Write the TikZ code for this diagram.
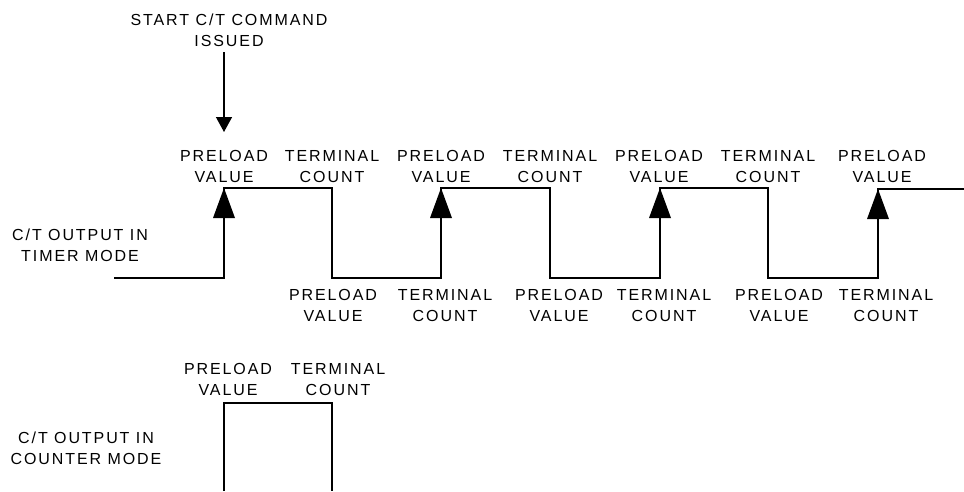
\documentclass[tikz,border=0pt]{standalone}
\usepackage{fontspec}
\setmainfont{Liberation Sans}[LetterSpace=12]
\usetikzlibrary{arrows.meta}
\tikzset{
  lbl/.style={align=center, inner sep=0pt, anchor=south, font=\fontsize{16}{21.5}\selectfont},
  wave/.style={line width=1.4pt, line join=miter},
}
\begin{document}
\begin{tikzpicture}[x=1pt,y=-1pt]
\useasboundingbox (0,0) rectangle (964,491);
% start label and arrow
\node[lbl] (start) at (229,47) {START C/T COMMAND\\ISSUED};
\coordinate (st) at (224,132);
\draw[wave, -{Triangle[length=15pt,width=16pt]}] ([yshift=-5pt]start.south -| st) -- (st);
% timer mode labels
\node[lbl] (tml) at (80,262) {C/T OUTPUT IN\\TIMER MODE};
\node[lbl] (pv1) at (224,183) {PRELOAD\\VALUE};
\node[lbl] (tc1) at (332,183) {TERMINAL\\COUNT};
\node[lbl] (pv2) at (441,183) {PRELOAD\\VALUE};
\node[lbl] (tc2) at (550,183) {TERMINAL\\COUNT};
\node[lbl] (pv3) at (659,183) {PRELOAD\\VALUE};
\node[lbl] (tc3) at (768,183) {TERMINAL\\COUNT};
\node[lbl] (pv4) at (882,183) {PRELOAD\\VALUE};
\node[lbl] (bpv1) at (333,322) {PRELOAD\\VALUE};
\node[lbl] (btc1) at (445,322) {TERMINAL\\COUNT};
\node[lbl] (bpv2) at (559,322) {PRELOAD\\VALUE};
\node[lbl] (btc2) at (664,322) {TERMINAL\\COUNT};
\node[lbl] (bpv3) at (779,322) {PRELOAD\\VALUE};
\node[lbl] (btc3) at (886,322) {TERMINAL\\COUNT};
% timer waveform
\draw[wave] (114,278) -- (224,278) -- (224,188) -- (332,188) -- (332,278)
  -- (441,278) -- (441,188) -- (550,188) -- (550,278) -- (660,278) -- (660,188)
  -- (768,188) -- (768,278) -- (878,278) -- (878,189) -- (964,189);
\foreach \x/\t in {224/188, 441/188, 660/188, 878/189}
  \fill (\x,\t) -- (\x-11,\t+30) -- (\x+11,\t+30) -- cycle;
% counter mode
\node[lbl] (cml) at (86,465) {C/T OUTPUT IN\\COUNTER MODE};
\node[lbl] (cpv) at (228,396) {PRELOAD\\VALUE};
\node[lbl] (ctc) at (338,396) {TERMINAL\\COUNT};
\draw[wave] (224,491) -- (224,403) -- (332,403) -- (332,491);
\end{tikzpicture}
\end{document}
